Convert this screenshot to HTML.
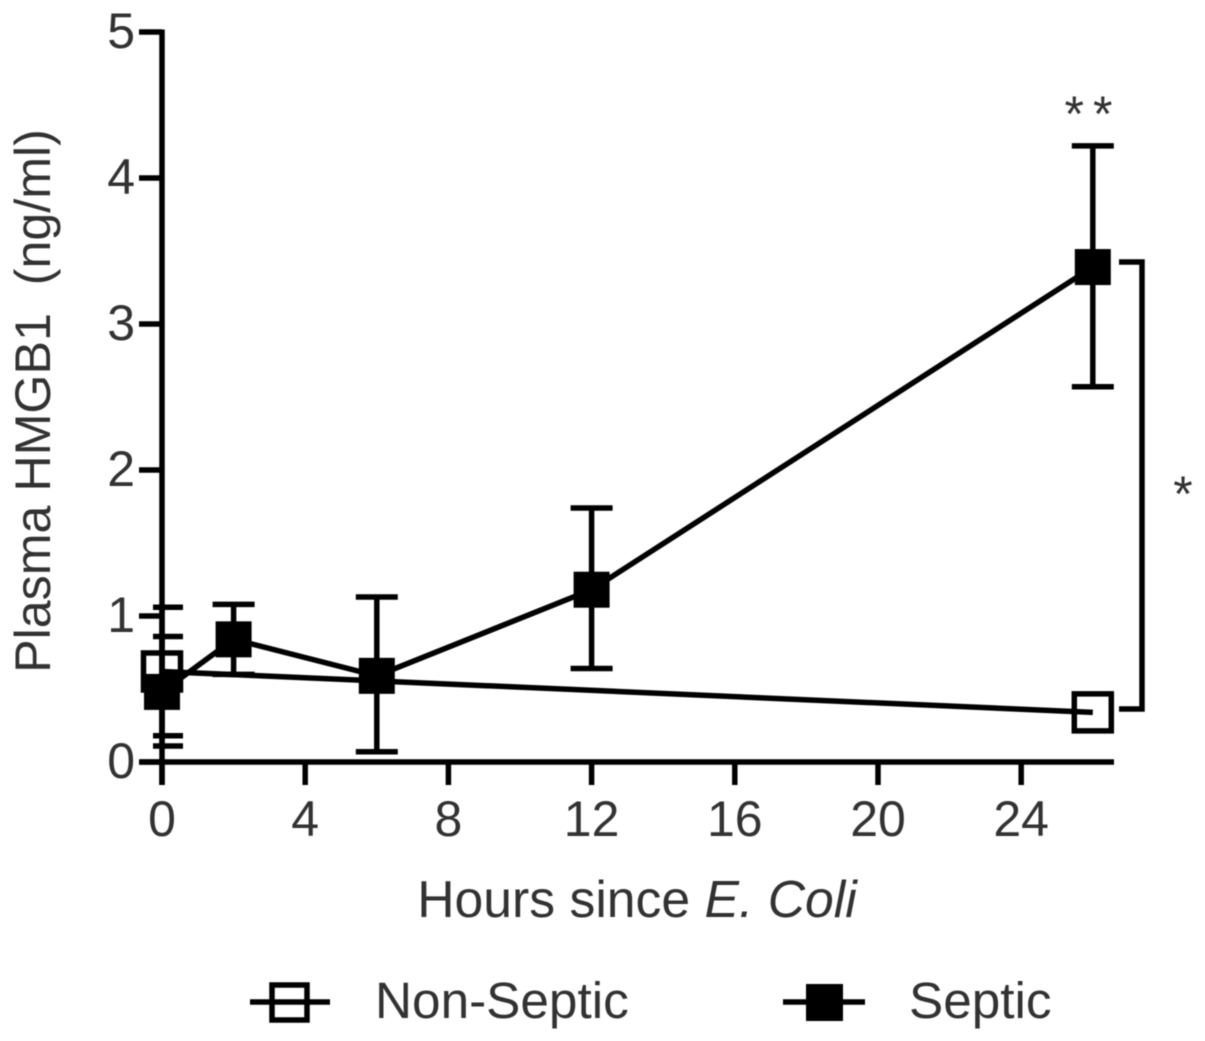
<!DOCTYPE html>
<html>
<head>
<meta charset="utf-8">
<style>
html,body{margin:0;padding:0;background:#fff;}
svg{display:block;}
text{font-family:"Liberation Sans",sans-serif;fill:#333;}
</style>
</head>
<body>
<svg id="chart" width="1205" height="1041" viewBox="0 0 1205 1041" xmlns="http://www.w3.org/2000/svg">
<defs><filter id="soft" x="-5%" y="-5%" width="110%" height="110%"><feGaussianBlur stdDeviation="0.6"/></filter></defs>
<g id="root" filter="url(#soft)">
<text transform="translate(50,401) rotate(-90)" text-anchor="middle" font-size="50.2" xml:space="preserve">Plasma HMGB1  (ng/ml)</text>
<text x="637" y="917" text-anchor="middle" font-size="51.7">Hours since <tspan font-style="italic">E. Coli</tspan></text>
<text x="1093" y="131" text-anchor="middle" font-size="50" letter-spacing="9">**</text>
<text x="1183" y="511" text-anchor="middle" font-size="50">*</text>
<path d="M1119 262H1142V709H1119" fill="none" stroke="#000" stroke-width="5.5"/>
<g>
<line x1="250" y1="1002" x2="330" y2="1002" stroke="#000" stroke-width="5.5"/>
<rect x="272" y="985" width="35" height="35" fill="none" stroke="#000" stroke-width="5.5"/>
<text x="375" y="1018" font-size="51.3">Non-Septic</text>
<line x1="783" y1="1002" x2="865" y2="1002" stroke="#000" stroke-width="5.5"/>
<rect x="806" y="984" width="37" height="37" fill="#000"/>
<text x="909" y="1018" font-size="51.3">Septic</text>
</g>
</g>
</svg>
<script>
var xTicks = [0, 4, 8, 12, 16, 20, 24];
var yTicks = [0, 1, 2, 3, 4, 5];
var nonSepticHours = [0, 26];
var nonSepticMean = [0.62, 0.34];
var nonSepticUpper = [1.06, 0.34];
var nonSepticLower = [0.18, 0.34];
var septicHours = [0, 2, 6, 12, 26];
var septicMean = [0.48, 0.84, 0.59, 1.18, 3.39];
var septicUpper = [0.86, 1.08, 1.13, 1.74, 4.22];
var septicLower = [0.11, 0.60, 0.07, 0.64, 2.57];

var NS = 'http://www.w3.org/2000/svg';
var root = document.getElementById('root');
function sx(h) { return 162 + h * 35.8; }
function sy(v) { return 762 - v * 146; }
function make(tag, attrs) {
  var el = document.createElementNS(NS, tag);
  for (var k in attrs) el.setAttribute(k, attrs[k]);
  root.appendChild(el);
  return el;
}
function seg(x1, y1, x2, y2, w) {
  return make('line', {x1: x1, y1: y1, x2: x2, y2: y2, stroke: '#000', 'stroke-width': w || 5.5});
}

var yAxis = seg(sx(0), sy(5) - 2.5, sx(0), 785);


var xAxis = seg(140, sy(0), 1114, sy(0));



yTicks.forEach(function (v) {
  var t = seg(139, sy(v), sx(0), sy(v));
  
  
  var l = make('text', {x: 135, y: sy(v) + 16, 'text-anchor': 'end', 'font-size': 50});
  l.textContent = String(v);
  
  
});
xTicks.forEach(function (h) {
  var t = seg(sx(h), sy(0), sx(h), 785);
  
  
  var l = make('text', {x: sx(h), y: 836, 'text-anchor': 'middle', 'font-size': 50});
  l.textContent = String(h);
  
  
});

function errorBars(hours, upper, lower, name) {
  hours.forEach(function (h, i) {
    if (upper[i] === lower[i]) return;
    var x = sx(h);
    var left = Math.max(x - 21, sx(0) - 9);
    var stem = seg(x, sy(upper[i]), x, sy(lower[i]));
    
    
    var capTop = seg(left, sy(upper[i]), x + 21, sy(upper[i]));
    
    
    var capBottom = seg(left, sy(lower[i]), x + 21, sy(lower[i]));
    
    
  });
}
function polyline(hours, means, name) {
  var pts = hours.map(function (h, i) { return sx(h) + ',' + sy(means[i]); }).join(' ');
  var line = make('polyline', {points: pts, fill: 'none', stroke: '#000', 'stroke-width': 5.5});
  
  
}

errorBars(nonSepticHours, nonSepticUpper, nonSepticLower, 'non-septic');
polyline(nonSepticHours, nonSepticMean, 'non-septic');
nonSepticHours.forEach(function (h, i) {
  var m = make('rect', {x: sx(h) - 18.5, y: sy(nonSepticMean[i]) - 18.5, width: 37, height: 37, fill: 'none', stroke: '#000', 'stroke-width': 5.5});
  
  
});

errorBars(septicHours, septicUpper, septicLower, 'septic');
polyline(septicHours, septicMean, 'septic');
septicHours.forEach(function (h, i) {
  var m = make('rect', {x: sx(h) - 18, y: sy(septicMean[i]) - 18, width: 36, height: 36, fill: '#000'});
  
  
});
</script>
</body>
</html>
